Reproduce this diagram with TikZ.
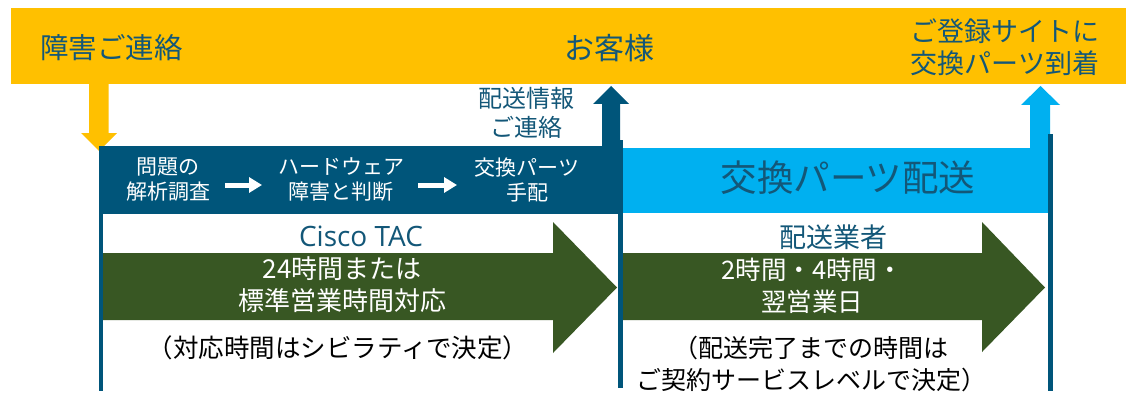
\documentclass[tikz,border=0pt]{standalone}
\usepackage{fontspec}
\setmainfont{Noto Sans CJK JP}
\newfontfamily\latinsans{Open Sans}
\usetikzlibrary{arrows.meta}
\definecolor{dblue}{HTML}{00557A}
\definecolor{cyanb}{HTML}{00B0F0}
\definecolor{ygold}{HTML}{FFC000}
\definecolor{dgreen}{HTML}{385723}
\definecolor{tealtxt}{HTML}{135778}
\newcommand\fsz[2]{\fontsize{#1pt}{#2pt}\selectfont}
\begin{document}
\begin{tikzpicture}[x=1pt,y=-1pt,
  txt/.style={inner sep=0pt, outer sep=0pt, align=center},
  teal/.style={txt, text=tealtxt},
  wtxt/.style={txt, text=white},
  btxt/.style={txt, text=black},
  wharrow/.style={white, line width=5pt, -{Triangle[length=13pt,width=15pt]}},
  vline/.style={dblue, line width=4.5pt}]
\useasboundingbox (0,0) rectangle (1126,393);
\fill[white] (0,0) rectangle (1126,393);

% top bar
\fill[ygold] (11,8) rectangle (1126,84);
% yellow down arrow
\fill[ygold] (89,84) -- (108.5,84) -- (108.5,133) -- (117,133) -- (99,151) -- (81,133) -- (89,133) -- cycle;

% dark box
\fill[dblue] (99,146) rectangle (623,214);
% dark up arrow
\fill[dblue] (602,147) -- (602,104) -- (593,104) -- (611,86) -- (629,104) -- (620,104) -- (620,147) -- cycle;

% cyan box
\fill[cyanb] (623,148) rectangle (1050,213);
% cyan up arrow
\fill[cyanb] (1030,149) -- (1030,105) -- (1021,105) -- (1040.5,86) -- (1060,105) -- (1050,105) -- (1050,149) -- cycle;

% green block arrows
\fill[dgreen] (101,253) -- (553,253) -- (553,222) -- (617,287.5) -- (553,353) -- (553,320) -- (101,320) -- cycle;
\fill[dgreen] (619,253) -- (982,253) -- (982,222) -- (1045,287.5) -- (982,352) -- (982,320) -- (619,320) -- cycle;

% vertical lines
\draw[vline, line width=4pt] (101,146) -- (101,391);
\draw[vline, line width=5pt] (620.5,140) -- (620.5,388);
\draw[vline, line width=5pt] (1050.5,134) -- (1050.5,391);

% texts in top bar
\node[teal, font=\fsz{28.5}{34}, anchor=west] (contact) at (40,48) {障害ご連絡};
\node[teal, font=\fsz{30}{36}] (cust) at (609,48) {お客様};
\node[teal, font=\fsz{27}{32}] (arrive) at (1005,47) {ご登録サイトに\\交換パーツ到着};
\node[teal, font=\fsz{24}{29}] (shipinfo) at (526,112.5) {配送情報\\ご連絡};

% texts in dark box
\node[wtxt, font=\fsz{21}{25}] (t1) at (168,180) {問題の\\解析調査};
\node[wtxt, font=\fsz{21}{25}] (t2) at (341,180) {ハードウェア\\障害と判断};
\node[wtxt, font=\fsz{21}{25}] (t3) at (527,180) {交換パーツ\\手配};
\coordinate (a1s) at (225,185);
\coordinate (a1e) at (262,185);
\coordinate (a2s) at (418,185);
\coordinate (a2e) at (457,185);
\draw[wharrow] (a1s) -- (a1e);
\draw[wharrow] (a2s) -- (a2e);

% cyan title
\node[teal, font=\fsz{36.5}{40}] (delivery) at (848,177.5) {交換パーツ配送};

% labels above arrows
\node[teal, font=\latinsans\fsz{28}{34}] (tac) at (361,236) {Cisco TAC};
\node[teal, font=\fsz{27}{32}] (carrier) at (833,237) {配送業者};

% texts in green arrows
\node[wtxt, font=\fsz{26}{32}] (hours) at (342,285) {24時間または\\標準営業時間対応};
\node[wtxt, font=\fsz{25.5}{32}] (times) at (812,286) {2時間・4時間・\\翌営業日};

% bottom notes
\node[btxt, font=\fsz{25.5}{32}] (note1) at (338,348) {（対応時間はシビラティで決定）};
\node[btxt, font=\fsz{25}{32}] (note2) at (811,364) {（配送完了までの時間は\\ご契約サービスレベルで決定）};
\end{tikzpicture}
\end{document}
